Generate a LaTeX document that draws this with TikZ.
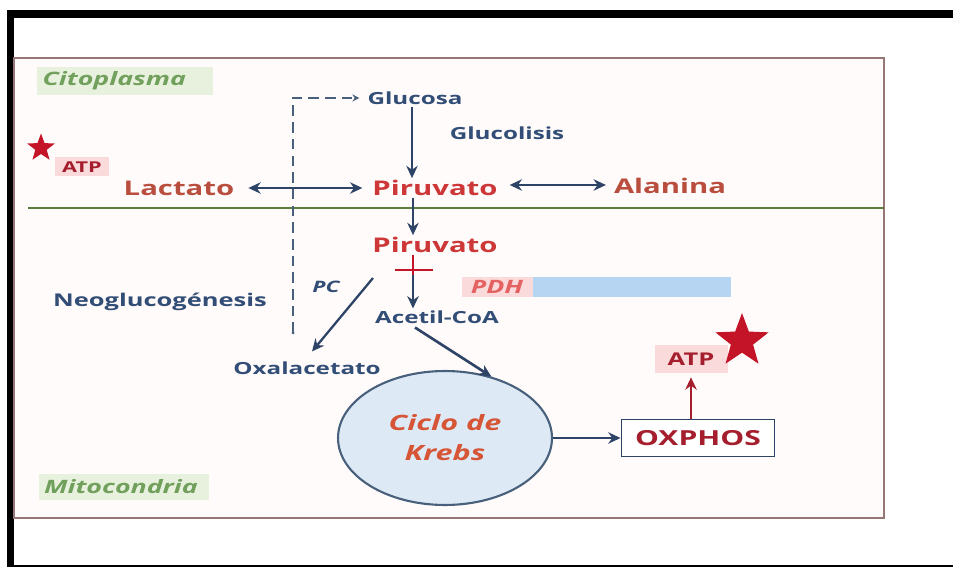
\documentclass[tikz,border=0pt]{standalone}
\usepackage{fontspec}
\setmainfont{Open Sans}[FakeStretch=1.45]
\usetikzlibrary{arrows.meta,shapes.geometric,calc}

\definecolor{txtblue}{RGB}{50,78,118}
\definecolor{arrblue}{RGB}{45,68,102}
\definecolor{txtred}{RGB}{205,55,55}
\definecolor{txtbrown}{RGB}{185,78,62}
\definecolor{atpred}{RGB}{165,30,45}
\definecolor{atpfill}{RGB}{250,218,218}
\definecolor{starred}{RGB}{195,20,40}
\definecolor{zonegreen}{RGB}{112,160,92}
\definecolor{zonefill}{RGB}{232,241,222}
\definecolor{boxline}{RGB}{150,118,118}
\definecolor{boxfill}{RGB}{255,251,250}
\definecolor{lineolive}{RGB}{92,125,58}
\definecolor{krebsfill}{RGB}{221,234,246}
\definecolor{krebsline}{RGB}{72,96,124}
\definecolor{krebstxt}{RGB}{215,85,55}
\definecolor{barblue}{RGB}{182,213,243}
\definecolor{pdhtxt}{RGB}{228,98,98}

\begin{document}
\begin{tikzpicture}[
    x=0.02cm,y=-0.02cm,
    every node/.style={font=\fontsize{9.5}{11}\selectfont\bfseries, inner sep=1pt},
    metab/.style={text=txtblue},
    redmet/.style={text=txtred, font=\fontsize{11.5}{13}\selectfont\bfseries},
    sidemet/.style={text=txtbrown, font=\fontsize{11.5}{13}\selectfont\bfseries},
    zonelbl/.style={fill=zonefill, text=zonegreen, font=\fontsize{10.5}{12}\selectfont\bfseries\itshape,
        minimum height=0.54cm, text width=3.3cm, align=left, inner sep=3pt},
    atpbox/.style={fill=atpfill, text=atpred},
    arr/.style={draw=arrblue, line width=1.5pt, -{Stealth[length=7pt,width=6.5pt]}},
    biarr/.style={arr, {Stealth[length=7pt,width=6.5pt]}-{Stealth[length=7pt,width=6.5pt]}},
    dashline/.style={draw=krebsline, line width=1.1pt, dash pattern=on 6pt off 3.5pt, -{Stealth[length=4pt,width=4pt]}},
    redstar/.style={star, star points=5, star point ratio=2.4, fill=starred, inner sep=0pt}
]
    \useasboundingbox (0,0) rectangle (953,567);

    % black frame
    \draw[line width=4.5pt] (10.5,567) -- (10.5,14) -- (953,14);
    \draw[line width=1.3pt] (10.5,566) -- (953,566);

    % cell and membrane
    \draw[draw=boxline, fill=boxfill, line width=1.2pt] (14,58) rectangle (884,518);
    \draw[draw=lineolive, line width=1.6pt] (28,208) -- (884,208);

    \node[zonelbl] (cito) at (125,81) {Citoplasma};
    \node[zonelbl, text width=3.2cm] (mito) at (124,487) {Mitocondria};

    % cytoplasm
    \node[metab] (glucosa) at (415,98) {Glucosa};
    \node[metab] (glucolisis) at (507,133) {Glucolisis};
    \node[redmet] (piru1) at (435,188) {Piruvato};
    \node[sidemet] (lactato) at (179,188) {Lactato};
    \node[sidemet] (alanina) at (670,186) {Alanina};
    \node[atpbox, font=\fontsize{8.5}{9}\selectfont\bfseries, minimum width=1.1cm, minimum height=0.38cm] (atp1) at (82,167) {ATP};
    \node[redstar, minimum size=0.58cm] (star1) at (41,148) {};

    % mitochondria
    \node[redmet] (piru2) at (435,245) {Piruvato};
    \node[metab, font=\fontsize{9}{11}\selectfont\bfseries\itshape] (pc) at (326,287) {PC};
    \node[metab, font=\fontsize{10}{12}\selectfont\bfseries] (neoglu) at (160,302) {Neoglucogénesis};
    \node[metab] (acetil) at (437,317) {Acetil-CoA};
    \node[metab] (oxal) at (307,368) {Oxalacetato};
    \node[atpbox, text=pdhtxt, font=\fontsize{10.5}{12}\selectfont\bfseries\itshape, minimum width=1.42cm, minimum height=0.42cm] (pdh) at (497,287) {PDH};
    \node[fill=barblue, minimum width=3.96cm, minimum height=0.42cm, anchor=west, inner sep=0pt] (pdhbar) at (pdh.east) {};

    \node[ellipse, draw=krebsline, fill=krebsfill, line width=1.2pt, minimum width=4.28cm, minimum height=2.68cm,
        text=krebstxt, font=\fontsize{12}{17}\selectfont\bfseries\itshape, align=center] (krebs) at (445,438) {Ciclo de\\Krebs};
    \node[draw=arrblue, fill=white, line width=1.1pt, minimum width=3.06cm, minimum height=0.74cm, text=atpred,
        font=\fontsize{11.8}{13}\selectfont\bfseries] (oxphos) at (698,438) {OXPHOS};
    \node[atpbox, font=\fontsize{10}{12}\selectfont\bfseries, minimum width=1.46cm, minimum height=0.56cm] (atp2) at (691,359) {ATP};
    \node[redstar, minimum size=1.12cm] (star2) at (742,341) {};

    % connectors
    \draw[arr] (glucosa.south -| 412,0) -- (piru1.north -| 412,0);
    \draw[biarr] ($(lactato.east)+(12,0)$) -- ($(piru1.west)+(-8,0)$);
    \draw[biarr] ($(piru1.east)+(10,-3)$) -- ($(alanina.west)+(-6,-1)$);
    \draw[arr] (piru1.south -| 413,0) -- (piru2.north -| 413,0);
    \draw[arr] (piru2.south -| 413,0) -- (acetil.north -| 413,0);
    \draw[draw=starred, line width=1.5pt] (piru2.south -| 413,0) -- ++(0,20);
    \draw[draw=starred, line width=1.5pt] (395,270) -- (433,270);
    \coordinate (pcstart) at (373,278);
    \draw[arr, line width=1.3pt] (pcstart) -- ($(oxal.north)+(5,-8)$);
    \coordinate (dashend) at (293,333);
    \fill[krebsline] (dashend) circle (1.5);
    \draw[dashline] (dashend) |- ($(glucosa.west)+(-6,0)$);
    \draw[arr] ($(acetil.south)+(-22,2)$) -- (krebs.53);
    \draw[arr] (krebs.east) -- (oxphos.west);
    \draw[arr, draw=atpred] (atp2.south |- oxphos.north) -- ($(atp2.south)+(0,4)$);
\end{tikzpicture}
\end{document}
